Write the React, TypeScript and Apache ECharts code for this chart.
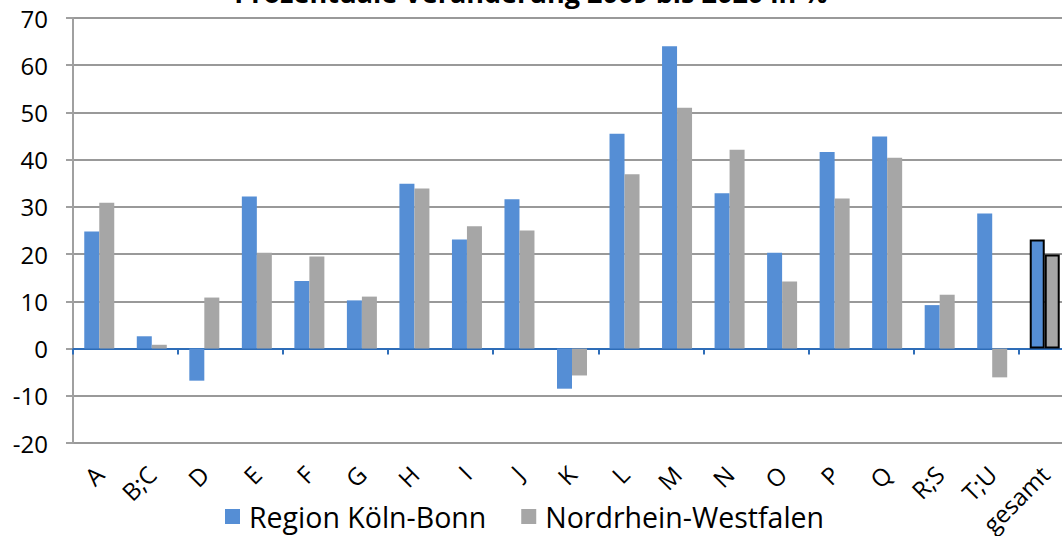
import React, { useEffect, useRef } from "react";
import * as echarts from "echarts";

const categories = ["A", "B;C", "D", "E", "F", "G", "H", "I", "J", "K", "L", "M", "N", "O", "P", "Q", "R;S", "T;U", "gesamt"];
const koelnBonn = [24.8, 2.6, -6.8, 32.2, 14.3, 10.2, 34.9, 23.1, 31.6, -8.5, 45.5, 64.0, 32.9, 20.3, 41.6, 44.9, 9.2, 28.6, 23.1];
const nrw = [30.9, 0.8, 10.8, 20.3, 19.5, 11.0, 33.9, 25.9, 25.0, -5.7, 36.9, 51.0, 42.1, 14.2, 31.8, 40.4, 11.4, -6.1, 19.9];
const seriesNames = ["Region Köln-Bonn", "Nordrhein-Westfalen"];
const title = "Prozentuale Veränderung 2009 bis 2020 in %";

const FONT = "Open Sans";

export default function App() {
  const ref = useRef<HTMLDivElement>(null);
  useEffect(() => {
    if (!ref.current) return;
    const chart = echarts.init(ref.current, null, { renderer: "svg" });
    const mk = (vals: number[], color: string) =>
      vals.map((v, i) =>
        categories[i] === "gesamt"
          ? { value: v, itemStyle: { color, borderColor: "#000", borderWidth: 2 } }
          : { value: v }
      );
    chart.setOption({
      animation: false,
      textStyle: { fontFamily: FONT },
      graphic: [
        {
          type: "text",
          left: "center",
          top: -21,
          style: { text: title, font: `bold 27px ${FONT}`, fill: "#000" },
        },
      ],
      legend: {
        left: 225,
        top: 502,
        padding: 0,
        itemWidth: 15,
        itemHeight: 15,
        itemGap: 35,
        icon: "rect",
        textStyle: { fontSize: 28.5, color: "#000", fontFamily: FONT, padding: [0, 0, 0, 4] },
        data: seriesNames,
      },
      grid: {
        left: 73,
        top: 18,
        width: 998,
        height: 425,
        containLabel: false,
        outerBoundsMode: "none",
      },
      xAxis: [
        {
          type: "category",
          data: categories,
          axisLine: { onZero: true, lineStyle: { color: "#2E6DB8", width: 2 } },
          axisTick: { show: true, length: 6, lineStyle: { color: "#2E6DB8", width: 2 } },
          axisLabel: { show: false },
          splitLine: { show: false },
        },
        {
          type: "category",
          data: categories,
          position: "bottom",
          axisLine: { show: false, onZero: false },
          axisTick: { show: false },
          axisLabel: {
            rotate: 45,
            margin: 27,
            fontSize: 24,
            color: "#000",
            fontFamily: FONT,
            interval: 0,
          },
        },
      ],
      yAxis: {
        type: "value",
        min: -20,
        max: 70,
        interval: 10,
        axisLine: { show: true, lineStyle: { color: "#A0A0A0", width: 2 } },
        axisTick: { show: true, length: 7, lineStyle: { color: "#A0A0A0", width: 2 } },
        splitLine: { lineStyle: { color: "#999999", width: 2 } },
        axisLabel: { fontSize: 24, color: "#000", margin: 25, fontFamily: FONT },
      },
      series: [
        {
          name: seriesNames[0],
          type: "bar",
          xAxisIndex: 0,
          barWidth: 15,
          barGap: "0%",
          itemStyle: { color: "#558ED5" },
          data: mk(koelnBonn, "#558ED5"),
        },
        {
          name: seriesNames[1],
          type: "bar",
          xAxisIndex: 0,
          barWidth: 15,
          barGap: "0%",
          itemStyle: { color: "#A6A6A6" },
          data: mk(nrw, "#A6A6A6"),
        },
      ],
    });
    return () => chart.dispose();
  }, []);
  return (
    <div
      ref={ref}
      style={{ position: "fixed", left: 0, top: 0, width: 1062, height: 536, background: "#fff" }}
    />
  );
}
